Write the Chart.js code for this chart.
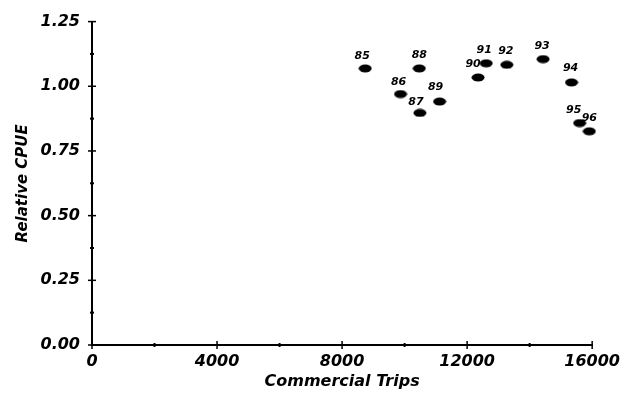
<!DOCTYPE html>
<html lang="en">
<head>
    <meta charset="UTF-8">
    <title>Relative CPUE vs Commercial Trips</title>
    <script src="https://cdn.jsdelivr.net/npm/chart.js"></script>
    <style>
        html, body { margin: 0; padding: 0; background: #fff; }
        #wrap { width: 627px; height: 411px; }
    </style>
</head>
<body>
    <div id="wrap"><canvas id="cpueChart" width="627" height="411"></canvas></div>

    <script>
        // values
        const years = ['85', '86', '87', '88', '89', '90', '91', '92', '93', '94', '95', '96'];
        const trips = [8740, 9870, 10490, 10470, 11120, 12350, 12610, 13270, 14430, 15340, 15600, 15910];
        const cpue = [1.069, 0.970, 0.897, 1.069, 0.941, 1.034, 1.089, 1.083, 1.105, 1.015, 0.858, 0.826];
        const yTicks = [0, 0.25, 0.5, 0.75, 1.0, 1.25];
        const xTicks = [0, 4000, 8000, 12000, 16000];

        // where each year label sits relative to its point (pixels)
        const labelShift = [[-3, -12], [-2, -12], [-4, -11], [0, -13], [-4, -14], [-5, -13],
                            [-2, -13], [-1, -14], [-1, -13], [-1, -14], [-6, -13], [0, -13]];

        const font = 'DejaVu Sans, Verdana, sans-serif';

        // blobby ellipse marker like the printed dots
        const dot = document.createElement('canvas');
        dot.width = 14; dot.height = 9;
        const dctx = dot.getContext('2d');
        dctx.fillStyle = '#000';
        dctx.beginPath();
        dctx.ellipse(7, 4.5, 6.5, 4, 0, 0, Math.PI * 2);
        dctx.fill();

        // ticks crossing the axes plus small minor marks between them
        const axisTicks = {
            id: 'axisTicks',
            afterDraw(chart) {
                const ctx = chart.ctx;
                const x = chart.scales.x, y = chart.scales.y;
                const y0 = y.getPixelForValue(0), x0 = x.getPixelForValue(0);
                ctx.save();
                ctx.strokeStyle = '#000';
                ctx.lineWidth = 1.5;
                yTicks.forEach(v => {
                    const p = y.getPixelForValue(v);
                    ctx.beginPath(); ctx.moveTo(x0 - 4, p); ctx.lineTo(x0 + 4, p); ctx.stroke();
                });
                xTicks.forEach(v => {
                    const p = x.getPixelForValue(v);
                    ctx.beginPath(); ctx.moveTo(p, y0 - 4); ctx.lineTo(p, y0 + 4); ctx.stroke();
                });
                ctx.fillStyle = '#000';
                for (let i = 0; i < yTicks.length - 1; i++) {
                    const p = y.getPixelForValue((yTicks[i] + yTicks[i + 1]) / 2);
                    ctx.fillRect(x0 - 2, p - 1, 4, 2);
                }
                for (let i = 0; i < xTicks.length - 1; i++) {
                    const p = x.getPixelForValue((xTicks[i] + xTicks[i + 1]) / 2);
                    ctx.fillRect(p - 1, y0 - 2, 2, 4);
                }
                ctx.restore();
            }
        };

        // year labels next to each point
        const yearLabels = {
            id: 'yearLabels',
            afterDatasetsDraw(chart) {
                const ctx = chart.ctx;
                const meta = chart.getDatasetMeta(0);
                ctx.save();
                ctx.font = 'italic bold 11px ' + font;
                ctx.fillStyle = '#000';
                ctx.textAlign = 'center';
                ctx.textBaseline = 'middle';
                meta.data.forEach((pt, i) => {
                    ctx.fillText(years[i], pt.x + labelShift[i][0], pt.y + labelShift[i][1]);
                });
                ctx.restore();
            }
        };

        const ctx = document.getElementById('cpueChart').getContext('2d');
        const chart = new Chart(ctx, {
            type: 'scatter',
            data: {
                datasets: [{
                    label: 'Relative CPUE',
                    data: trips.map((t, i) => ({ x: t, y: cpue[i] })),
                    pointStyle: dot,
                    backgroundColor: '#000',
                    borderColor: '#000',
                    clip: false
                }]
            },
            options: {
                responsive: false,
                animation: false,
                devicePixelRatio: 1,
                layout: { padding: { top: 19, right: 29, left: 14, bottom: 20 } },
                plugins: {
                    legend: { display: false },
                    tooltip: { enabled: false }
                },
                scales: {
                    x: {
                        type: 'linear',
                        min: 0,
                        max: 16000,
                        afterBuildTicks: s => { s.ticks = xTicks.map(v => ({ value: v })); },
                        afterFit: s => { s.height = 46; },
                        grid: { display: true, drawOnChartArea: false, drawTicks: false },
                        border: { color: '#000', width: 2 },
                        ticks: {
                            color: '#000',
                            padding: 7,
                            maxRotation: 0,
                            font: { family: font, size: 16, style: 'italic', weight: 'bold' },
                            callback: v => String(v)
                        },
                        title: {
                            display: true,
                            text: 'Commercial Trips',
                            color: '#000',
                            padding: { top: 0, bottom: 0 },
                            font: { family: font, size: 16, style: 'italic', weight: 'bold' }
                        }
                    },
                    y: {
                        min: 0,
                        max: 1.25,
                        afterBuildTicks: s => { s.ticks = yTicks.map(v => ({ value: v })); },
                        afterFit: s => { s.width = 78; },
                        grid: { display: true, drawOnChartArea: false, drawTicks: false },
                        border: { color: '#000', width: 2 },
                        ticks: {
                            color: '#000',
                            padding: 12,
                            font: { family: font, size: 16, style: 'italic', weight: 'bold' },
                            callback: v => v.toFixed(2)
                        },
                        title: {
                            display: true,
                            text: 'Relative CPUE',
                            color: '#000',
                            padding: { top: 0, bottom: 4 },
                            font: { family: font, size: 15, style: 'italic', weight: 'bold' }
                        }
                    }
                }
            },
            plugins: [axisTicks, yearLabels]
        });
    </script>
</body>
</html>
